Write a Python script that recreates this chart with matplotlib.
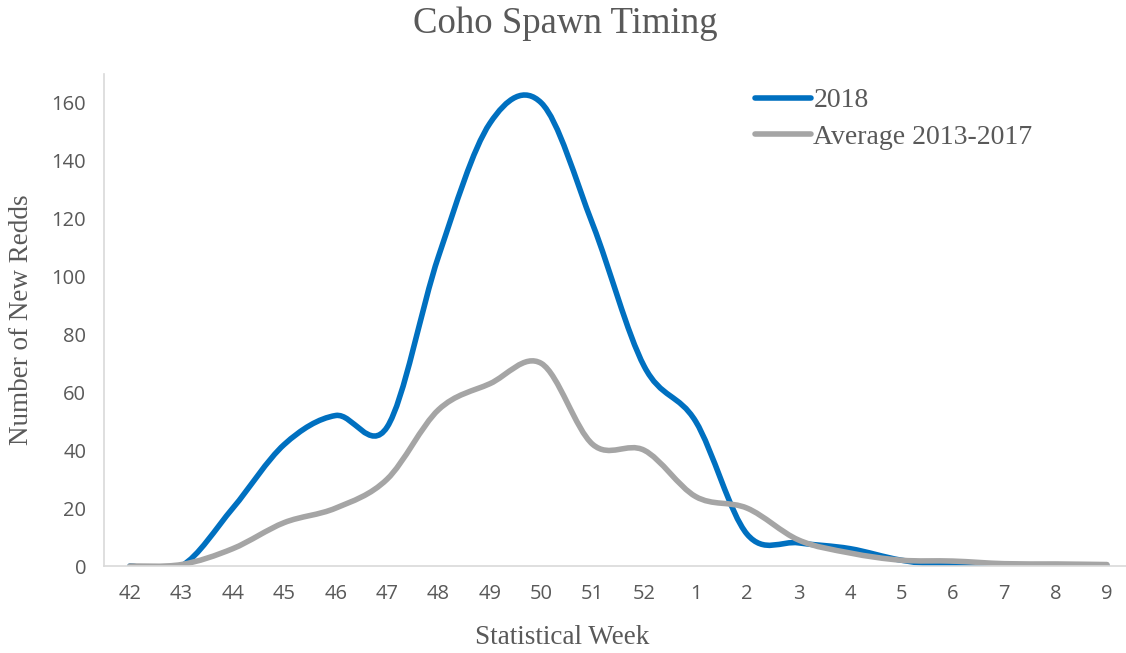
import numpy as np
import matplotlib.pyplot as plt
from matplotlib.path import Path
from matplotlib.patches import PathPatch
from matplotlib.lines import Line2D

# Statistical weeks and new redd counts
weeks = ["42", "43", "44", "45", "46", "47", "48", "49", "50", "51",
         "52", "1", "2", "3", "4", "5", "6", "7", "8", "9"]
redds_2018 = [0, 0, 20, 42, 52, 48, 107, 153, 160, 118,
              69, 50, 11, 8, 6, 2, 0, 0, 0, 0]
redds_avg = [0, 0.5, 6, 15, 20, 30, 54, 63, 70, 42,
             40, 24, 20, 9, 4.5, 2, 1.7, 0.8, 0.7, 0.5]

blue = "#0070C0"
gray = "#A5A5A5"
text_col = "#595959"
serif = ["Liberation Serif", "DejaVu Serif"]
sans = ["Open Sans", "DejaVu Sans"]


def smooth_path(x, y):
    # excel-like smoothed line: cubic bezier through every point
    pts = np.column_stack([x, y]).astype(float)
    n = len(pts)
    verts = [pts[0]]
    codes = [Path.MOVETO]
    for i in range(n - 1):
        p0 = pts[i - 1] if i > 0 else pts[i]
        p1 = pts[i]
        p2 = pts[i + 1]
        p3 = pts[i + 2] if i + 2 < n else pts[i + 1]
        c1 = p1 + (p2 - p0) / 6.0
        c2 = p2 - (p3 - p1) / 6.0
        verts += [c1, c2, p2]
        codes += [Path.CURVE4] * 3
    return Path(verts, codes)


fig = plt.figure(figsize=(11.26, 6.53), dpi=100)
step = 51.42
left = 130 - 0.5 * step
ax = fig.add_axes([left / 1126, 1 - 566 / 653, 20 * step / 1126, (566 - 74) / 653])

x = np.arange(len(weeks))
# 2018 first, average drawn on top (as in the original)
for vals, col in [(redds_2018, blue), (redds_avg, gray)]:
    patch = PathPatch(smooth_path(x, vals), facecolor="none", edgecolor=col,
                      lw=4, capstyle="round", joinstyle="round")
    ax.add_patch(patch)

ax.set_xlim(-0.5, len(weeks) - 0.5)
ax.set_ylim(0, 170)
ax.set_xticks(x)
ax.set_xticklabels(weeks)
ax.set_yticks(np.arange(0, 161, 20))
ax.tick_params(length=0, labelsize=14.5, colors=text_col)
ax.tick_params(axis="x", pad=13)
ax.tick_params(axis="y", pad=13)
for lab in ax.get_xticklabels() + ax.get_yticklabels():
    lab.set_family(sans)

for s in ["top", "right"]:
    ax.spines[s].set_visible(False)
for s in ["left", "bottom"]:
    ax.spines[s].set_color("#D9D9D9")
    ax.spines[s].set_linewidth(1.2)

fig.text(565 / 1126, 1 - 24 / 653, "Coho Spawn Timing", ha="center", va="center",
         fontsize=26.5, color=text_col, family=serif)
fig.text(562 / 1126, 1 - 637 / 653, "Statistical Week", ha="center", va="center",
         fontsize=19.5, color=text_col, family=serif)
fig.text(22 / 1126, 1 - 320 / 653, "Number of New Redds", ha="center", va="center",
         rotation=90, fontsize=19.5, color=text_col, family=serif)

handles = [Line2D([], [], color=blue, lw=4, solid_capstyle="round"),
           Line2D([], [], color=gray, lw=4, solid_capstyle="round")]
leg = fig.legend(handles, ["2018", "Average 2013-2017"], loc="upper left",
                 bbox_to_anchor=(755 / 1126, 1 - 88 / 653), frameon=False,
                 borderpad=0, borderaxespad=0,
                 handlelength=2.0, handletextpad=0.1, labelspacing=0.4,
                 prop={"family": serif, "size": 20})
for t in leg.get_texts():
    t.set_color(text_col)

fig.savefig("out.png", dpi=100)
